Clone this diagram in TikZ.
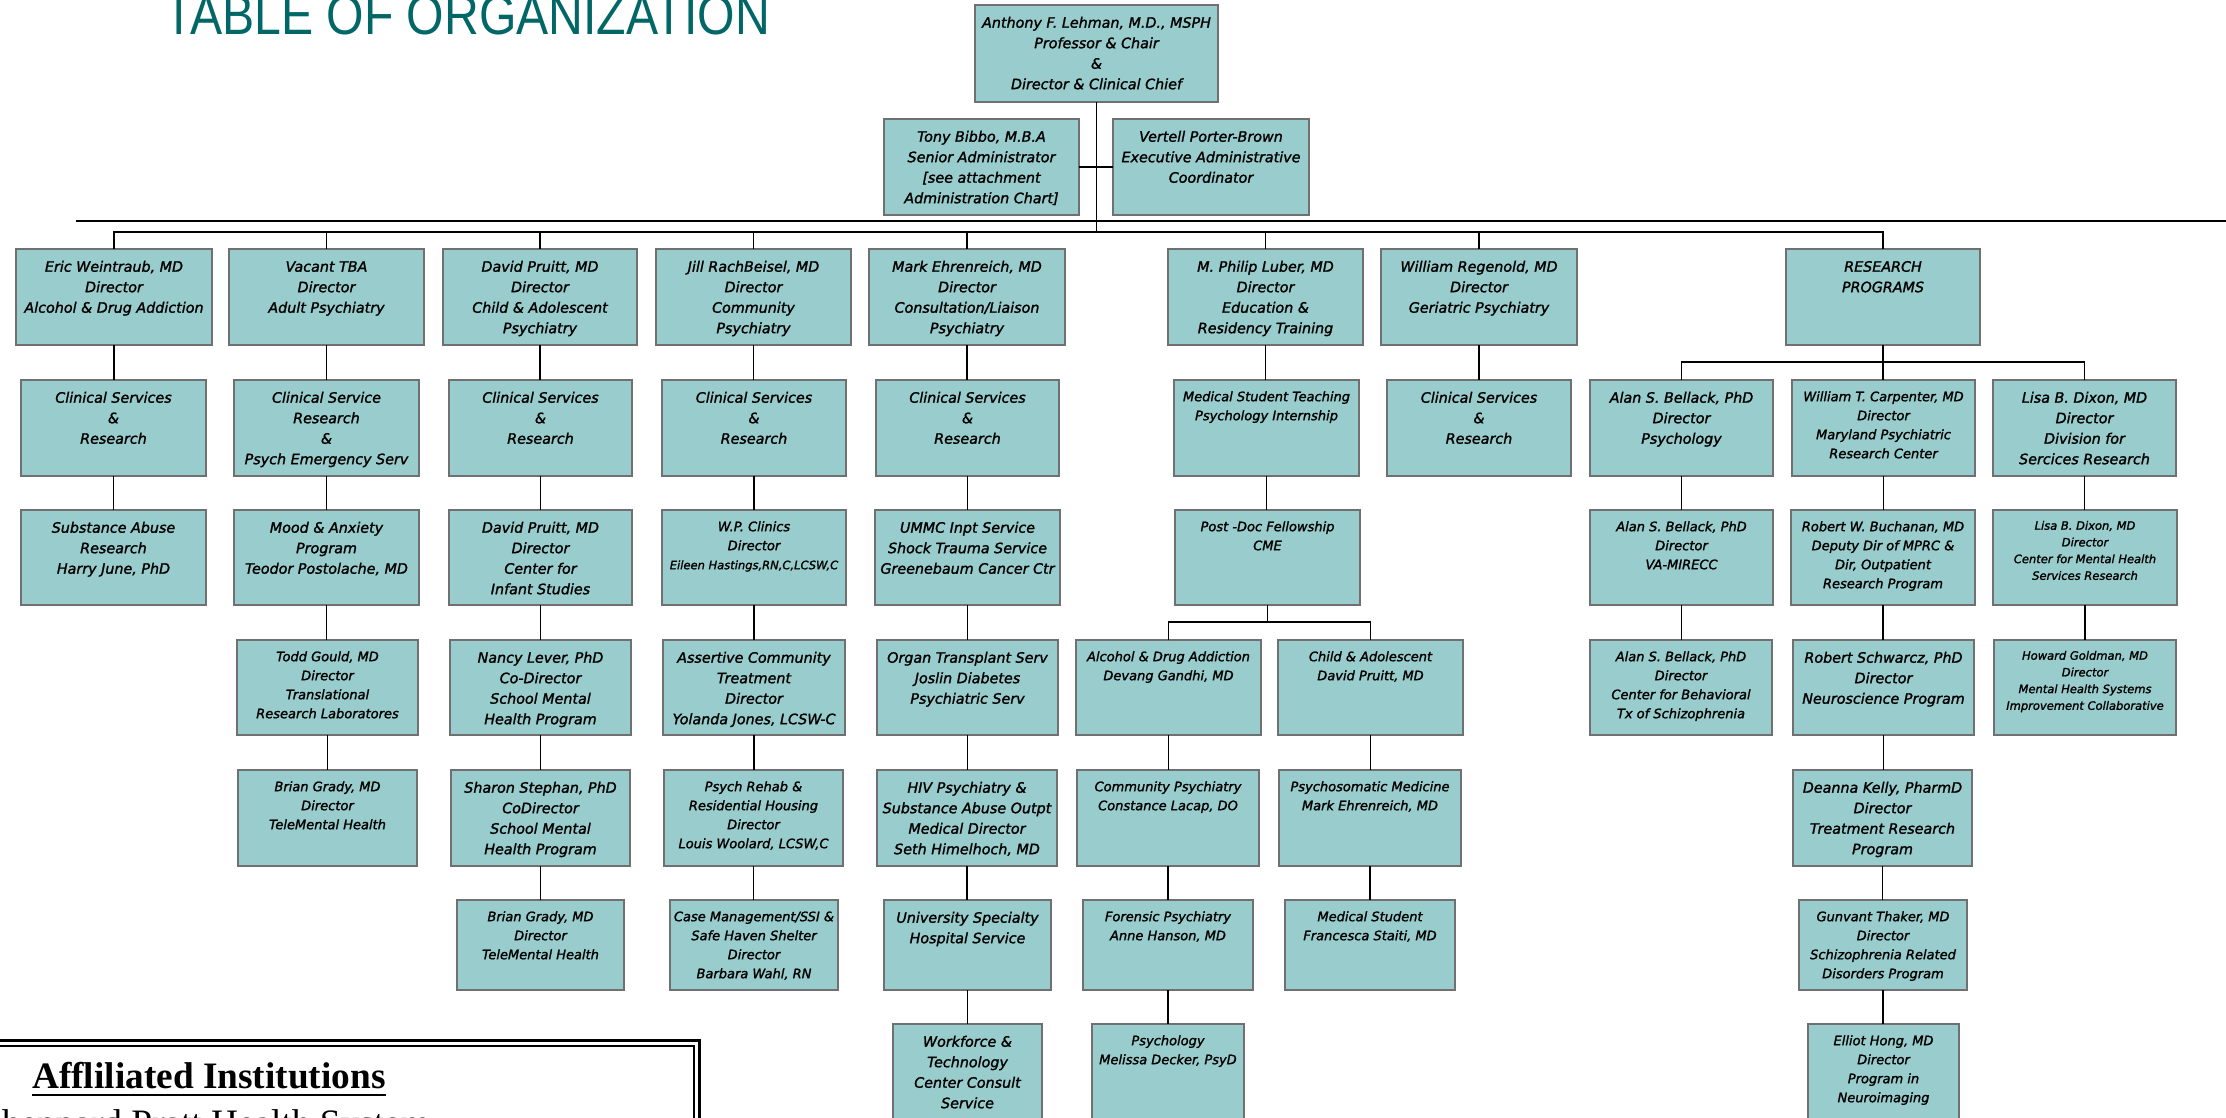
\documentclass[tikz,border=0pt]{standalone}
\usepackage{fontspec}
\setmainfont{DejaVu Sans}[ItalicFeatures={FakeBold=1.5}]
\newfontfamily\titlefont{Liberation Sans}[FakeStretch=0.86]
\newfontfamily\serifaff{Liberation Serif}
\usetikzlibrary{calc}
\definecolor{boxfill}{RGB}{153,204,204}
\definecolor{boxline}{RGB}{112,112,112}
\definecolor{titlecol}{RGB}{0,102,102}
\tikzset{
 orgbox/.style={draw=boxline, fill=boxfill, line width=1.5pt, inner sep=0pt, outer sep=0pt},
 tL/.style={font={\fontsize{14.3}{20.5}\selectfont\itshape\def\fb{22.5pt}}, inner sep=0pt},
 tM/.style={font={\fontsize{13}{19}\selectfont\itshape\def\fb{21pt}}, inner sep=0pt},
 tS/.style={font={\fontsize{11.5}{16.7}\selectfont\itshape\def\fb{19.5pt}}, inner sep=0pt},
 conn/.style={line width=1.3pt, black},
 mainbar/.style={line width=2.6pt, black},
}
\newcommand\bx[7]{%
 \node[orgbox, minimum width={#4-#2}, minimum height={#5-#3}] (#1) at ({(#2+#4)/2},{(#3+#5)/2}) {};
 \node[#6, anchor=north] (#1-t) at (#1.north) {\begin{tabular}[t]{@{}c@{}}\rule{0pt}{\fb}#7\end{tabular}};}
\begin{document}
\begin{tikzpicture}[x=1pt,y=-1pt]
\useasboundingbox (0,0) rectangle (2226,1118);
\clip (0,0) rectangle (2226,1118);

% title
\node[anchor=base west, inner sep=0pt, text=titlecol, font=\titlefont\fontsize{56}{60}\selectfont] (title) at (164,35) {TABLE OF ORGANIZATION};

% top
\bx{lehman}{975}{5}{1218}{102}{tL}{Anthony F. Lehman, M.D., MSPH\\Professor \& Chair\\\&\\Director \& Clinical Chief}
\bx{bibbo}{884}{119}{1079}{215}{tL}{Tony Bibbo, M.B.A\\Senior Administrator\\{[}see attachment\\Administration Chart{]}}
\bx{porter}{1113}{119}{1309}{215}{tL}{Vertell Porter-Brown\\Executive Administrative\\Coordinator}

% directors
\bx{eric}{16}{249}{212}{345}{tL}{Eric Weintraub, MD\\Director\\Alcohol \& Drug Addiction}
\bx{vacant}{229}{249}{424}{345}{tL}{Vacant TBA\\Director\\Adult Psychiatry}
\bx{pruitt}{443}{249}{637}{345}{tL}{David Pruitt, MD\\Director\\Child \& Adolescent\\Psychiatry}
\bx{jill}{656}{249}{851}{345}{tL}{Jill RachBeisel, MD\\Director\\Community\\Psychiatry}
\bx{mark}{869}{249}{1065}{345}{tL}{Mark Ehrenreich, MD\\Director\\Consultation/Liaison\\Psychiatry}
\bx{luber}{1168}{249}{1363}{345}{tL}{M. Philip Luber, MD\\Director\\Education \&\\Residency Training}
\bx{regen}{1381}{249}{1577}{345}{tL}{William Regenold, MD\\Director\\Geriatric Psychiatry}
\bx{research}{1786}{249}{1980}{345}{tL}{RESEARCH\\PROGRAMS}

% row 2
\bx{c1a}{21}{380}{206}{476}{tL}{Clinical Services\\\&\\Research}
\bx{c2a}{234}{380}{419}{476}{tL}{Clinical Service\\Research\\\&\\Psych Emergency Serv}
\bx{c3a}{449}{380}{632}{476}{tL}{Clinical Services\\\&\\Research}
\bx{c4a}{662}{380}{846}{476}{tL}{Clinical Services\\\&\\Research}
\bx{c5a}{876}{380}{1059}{476}{tL}{Clinical Services\\\&\\Research}
\bx{c6a}{1174}{380}{1359}{476}{tM}{Medical Student Teaching\\Psychology Internship}
\bx{c7a}{1387}{380}{1571}{476}{tL}{Clinical Services\\\&\\Research}
\bx{r1a}{1590}{380}{1773}{476}{tL}{Alan S. Bellack, PhD\\Director\\Psychology}
\bx{r2a}{1792}{380}{1975}{476}{tM}{William T. Carpenter, MD\\Director\\Maryland Psychiatric\\Research Center}
\bx{r3a}{1993}{380}{2176}{476}{tL}{Lisa B. Dixon, MD\\Director\\Division for\\Sercices Research}

% row 3
\bx{c1b}{21}{510}{206}{605}{tL}{Substance Abuse\\Research\\Harry June, PhD}
\bx{c2b}{234}{510}{419}{605}{tL}{Mood \& Anxiety\\Program\\Teodor Postolache, MD}
\bx{c3b}{449}{510}{632}{605}{tL}{David Pruitt, MD\\Director\\Center for\\Infant Studies}
\bx{c4b}{662}{510}{846}{605}{tM}{W.P. Clinics\\Director\\{\fontsize{11.5}{16.7}\selectfont Eileen Hastings,RN,C,LCSW,C}}
\bx{c5b}{875}{510}{1060}{605}{tL}{UMMC Inpt Service\\Shock Trauma Service\\Greenebaum Cancer Ctr}
\bx{c6b}{1175}{510}{1360}{605}{tM}{Post -Doc Fellowship\\CME}
\bx{r1b}{1590}{510}{1773}{605}{tM}{Alan S. Bellack, PhD\\Director\\VA-MIRECC}
\bx{r2b}{1791}{510}{1975}{605}{tM}{Robert W. Buchanan, MD\\Deputy Dir of MPRC \&\\Dir, Outpatient\\Research Program}
\bx{r3b}{1993}{510}{2177}{605}{tS}{Lisa B. Dixon, MD\\Director\\Center for Mental Health\\Services Research}

% row 4
\bx{c2c}{237}{640}{418}{735}{tM}{Todd Gould, MD\\Director\\Translational\\Research Laboratores}
\bx{c3c}{450}{640}{631}{735}{tL}{Nancy Lever, PhD\\Co-Director\\School Mental\\Health Program}
\bx{c4c}{663}{640}{845}{735}{tL}{Assertive Community\\Treatment\\Director\\Yolanda Jones, LCSW-C}
\bx{c5c}{877}{640}{1058}{735}{tL}{Organ Transplant Serv\\Joslin Diabetes\\Psychiatric Serv}
\bx{eL1}{1076}{640}{1261}{735}{tM}{Alcohol \& Drug Addiction\\Devang Gandhi, MD}
\bx{eR1}{1278}{640}{1463}{735}{tM}{Child \& Adolescent\\David Pruitt, MD}
\bx{r1c}{1590}{640}{1772}{735}{tM}{Alan S. Bellack, PhD\\Director\\Center for Behavioral\\Tx of Schizophrenia}
\bx{r2c}{1793}{640}{1974}{735}{tL}{Robert Schwarcz, PhD\\Director\\Neuroscience Program}
\bx{r3c}{1994}{640}{2176}{735}{tS}{Howard Goldman, MD\\Director\\Mental Health Systems\\Improvement Collaborative}

% row 5
\bx{c2d}{238}{770}{417}{866}{tM}{Brian Grady, MD\\Director\\TeleMental Health}
\bx{c3d}{451}{770}{630}{866}{tL}{Sharon Stephan, PhD\\CoDirector\\School Mental\\Health Program}
\bx{c4d}{664}{770}{843}{866}{tM}{Psych Rehab \&\\Residential Housing\\Director\\Louis Woolard, LCSW,C}
\bx{c5d}{877}{770}{1057}{866}{tL}{HIV Psychiatry \&\\Substance Abuse Outpt\\Medical Director\\Seth Himelhoch, MD}
\bx{eL2}{1077}{770}{1259}{866}{tM}{Community Psychiatry\\Constance Lacap, DO}
\bx{eR2}{1279}{770}{1461}{866}{tM}{Psychosomatic Medicine\\Mark Ehrenreich, MD}
\bx{r2d}{1793}{770}{1972}{866}{tL}{Deanna Kelly, PharmD\\Director\\Treatment Research\\Program}

% row 6
\bx{c3e}{457}{900}{624}{990}{tM}{Brian Grady, MD\\Director\\TeleMental Health}
\bx{c4e}{670}{900}{838}{990}{tM}{Case Management/SSI \&\\Safe Haven Shelter\\Director\\Barbara Wahl, RN}
\bx{c5e}{884}{900}{1051}{990}{tL}{University Specialty\\Hospital Service}
\bx{eL3}{1083}{900}{1253}{990}{tM}{Forensic Psychiatry\\Anne Hanson, MD}
\bx{eR3}{1285}{900}{1455}{990}{tM}{Medical Student\\Francesca Staiti, MD}
\bx{r2e}{1799}{900}{1967}{990}{tM}{Gunvant Thaker, MD\\Director\\Schizophrenia Related\\Disorders Program}

% row 7
\bx{c5f}{893}{1024}{1042}{1140}{tL}{Workforce \&\\Technology\\Center Consult\\Service}
\bx{eL4}{1092}{1024}{1244}{1140}{tM}{Psychology\\Melissa Decker, PsyD}
\bx{r2f}{1808}{1024}{1959}{1140}{tM}{Elliot Hong, MD\\Director\\Program in\\Neuroimaging}

% main bars
\coordinate (barL) at (76,221);
\coordinate (barR) at (2240,221);
\draw[mainbar] (barL) -- (barR);
\coordinate (busY) at (0,232);
\draw[conn] (eric.north) |- (research.north |- busY) -- (research.north);
\foreach \n in {vacant,pruitt,jill,mark,luber,regen}
  \draw[conn] (\n.north) -- (\n.north |- busY);
\draw[conn] (lehman.south) -- (lehman.south |- busY);
\draw[conn] (bibbo.east) -- (porter.west);

% column chains
\foreach \a/\b in {eric/c1a, c1a/c1b, vacant/c2a, c2a/c2b, c2b/c2c, c2c/c2d,
  pruitt/c3a, c3a/c3b, c3b/c3c, c3c/c3d, c3d/c3e,
  jill/c4a, c4a/c4b, c4b/c4c, c4c/c4d, c4d/c4e,
  mark/c5a, c5a/c5b, c5b/c5c, c5c/c5d, c5d/c5e, c5e/c5f,
  luber/c6a, c6a/c6b, regen/c7a,
  eL1/eL2, eL2/eL3, eL3/eL4, eR1/eR2, eR2/eR3,
  r1a/r1b, r1b/r1c, r2a/r2b, r2b/r2c, r2c/r2d, r2d/r2e, r2e/r2f, r3a/r3b, r3b/r3c}
  \draw[conn] (\a.south) -- (\a.south |- \b.north);

% branches
\path (c6b.south) ++(0,17) coordinate (pdb);
\draw[conn] (c6b.south) -- (pdb);
\draw[conn] (eL1.north) |- (pdb) -| (eR1.north);
\path (research.south) ++(0,17) coordinate (rsb);
\draw[conn] (research.south) -- (rsb);
\draw[conn] (r1a.north) |- (rsb) -| (r3a.north);
\draw[conn] (rsb) -- (rsb |- r2a.north);

% affiliated institutions
\draw[line width=3pt] (-20,1040.5) rectangle (699,1250);
\draw[line width=1.8pt] (-20,1046) rectangle (694,1250);
\node[anchor=base west, inner sep=0pt, font=\serifaff\bfseries\fontsize{37.3}{40}\selectfont] (affil) at (32,1088) {Affliliated Institutions};
\draw[line width=2.4pt] ([yshift=-7pt]affil.base west) -- ([yshift=-7pt]affil.base east);
\node[anchor=base west, inner sep=0pt, font=\serifaff\fontsize{37.3}{40}\selectfont] (sheppard) at (-19,1135) {Sheppard Pratt Health System};
\end{tikzpicture}
\end{document}
